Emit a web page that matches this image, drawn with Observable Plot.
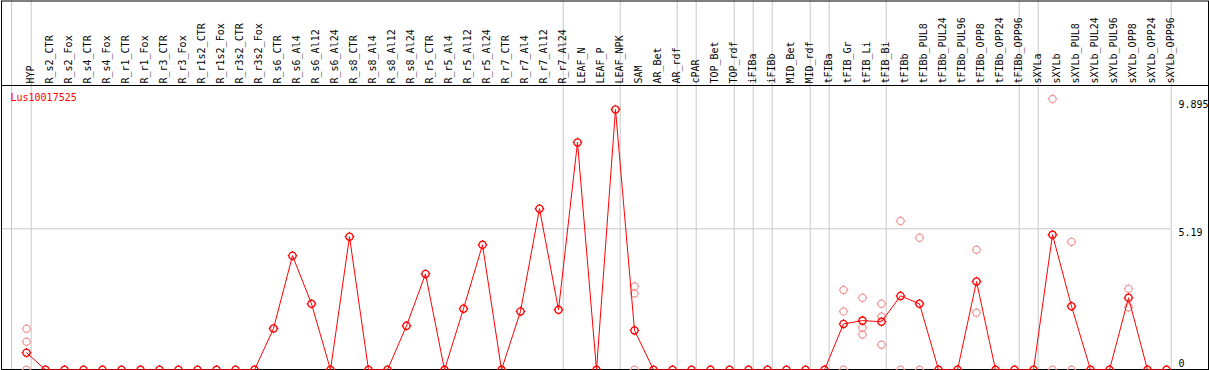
<!DOCTYPE html>
<html><head><meta charset="utf-8">
<script src="https://cdn.jsdelivr.net/npm/d3@7"></script>
<script src="https://cdn.jsdelivr.net/npm/@observablehq/plot@0.6"></script>
<style>body{margin:0;background:#fff} svg{display:block}</style>
</head><body><div id="chart"></div>
<script>
const geneId = "Lus10017525";
const categories = ["HYP","R_s2_CTR","R_s2_Fox","R_s4_CTR","R_s4_Fox","R_r1_CTR","R_r1_Fox","R_r3_CTR","R_r3_Fox","R_r1s2_CTR","R_r1s2_Fox","R_r3s2_CTR","R_r3s2_Fox","R_s6_CTR","R_s6_Al4","R_s6_Al12","R_s6_Al24","R_s8_CTR","R_s8_Al4","R_s8_Al12","R_s8_Al24","R_r5_CTR","R_r5_Al4","R_r5_Al12","R_r5_Al24","R_r7_CTR","R_r7_Al4","R_r7_Al12","R_r7_Al24","LEAF_N","LEAF_P","LEAF_NPK","SAM","AR_Bet","AR_rdf","cPAR","TOP_Bet","TOP_rdf","iFIBa","iFIBb","MID_Bet","MID_rdf","tFIBa","tFIB_Gr","tFIB_Li","tFIB_Bi","tFIBb","tFIBb_PUL8","tFIBb_PUL24","tFIBb_PUL96","tFIBb_OPP8","tFIBb_OPP24","tFIBb_OPP96","sXYLa","sXYLb","sXYLb_PUL8","sXYLb_PUL24","sXYLb_PUL96","sXYLb_OPP8","sXYLb_OPP24","sXYLb_OPP96"];
const means = [0.63,0,0,0,0,0,0,0,0,0,0,0,0,1.52,4.20,2.43,0,4.90,0,0,1.62,3.53,0,2.25,4.60,0,2.15,5.93,2.21,8.37,0,9.58,1.45,0,0,0,0,0,0,0,0,0,0,1.69,1.81,1.77,2.72,2.43,0,0,3.25,0,0,0,4.97,2.34,0,0,2.65,0,0];
const repCategories = ["HYP","HYP","HYP","SAM","SAM","SAM","tFIB_Gr","tFIB_Gr","tFIB_Gr","tFIB_Li","tFIB_Li","tFIB_Li","tFIB_Bi","tFIB_Bi","tFIB_Bi","tFIBb","tFIBb","tFIBb_PUL8","tFIBb_PUL8","tFIBb_OPP8","tFIBb_OPP8","sXYLb","sXYLb","sXYLb_PUL8","sXYLb_PUL8","sXYLb_OPP8","sXYLb_OPP8"];
const repValues = [1.51,1.03,0,3.07,2.81,0,2.94,2.15,0,2.65,1.55,1.30,2.43,1.96,0.92,5.48,0,4.86,0,4.42,2.10,9.97,0,4.71,0,2.98,2.30];
const groupEnds = ["HYP","R_r7_Al24","LEAF_NPK","AR_rdf","cPAR","TOP_rdf","iFIBa","iFIBb","MID_rdf","tFIBa","tFIB_Bi","tFIBb_OPP96","sXYLa","sXYLb_OPP96"];
const yTicksUpper = [5.19, 9.895];
const yTicksLower = [0];
const yGrid = [5.19];
const yTop = 10.464;

const meanData = categories.map((c, i) => ({cat: c, v: means[i]}));
const repData = repCategories.map((c, i) => ({cat: c, v: repValues[i]}));

const ringTick = {
  draw(ctx, size) {
    const r = Math.sqrt(size / Math.PI), t = 1.2;
    ctx.moveTo(r, 0); ctx.arc(0, 0, r, 0, 2 * Math.PI);
    ctx.moveTo(0, -r); ctx.lineTo(0, -r - t);
    ctx.moveTo(0, r); ctx.lineTo(0, r + t);
    ctx.moveTo(-r, 0); ctx.lineTo(-r - t, 0);
    ctx.moveTo(r, 0); ctx.lineTo(r + t, 0);
  }
};

const grid = "#c8c8c8";
const chart = Plot.plot({
  width: 1209, height: 370,
  marginTop: 0.5, marginBottom: 1, marginLeft: 1, marginRight: 1,
  style: {fontFamily: "'DejaVu Sans Mono', monospace", fontSize: "10px", background: "white", color: "black"},
  x: {type: "point", domain: categories, range: [26, 1166], padding: 0, axis: null},
  y: {domain: [0, yTop], range: [369.3, 85], axis: null},
  marks: [
    Plot.ruleX(["HYP"], {x: d => d, dx: -15, stroke: grid}),
    Plot.ruleX(groupEnds, {x: d => d, dx: 4.7, stroke: grid}),
    Plot.ruleY(yGrid, {y: d => d, stroke: grid, insetRight: 38}),
    Plot.ruleY([yTop], {y: d => d, stroke: "black"}),
    Plot.frame({stroke: "black"}),
    Plot.dot(repData, {x: "cat", y: "v", r: 3.6, symbol: ringTick, stroke: "#f09a9a", fill: "none", strokeWidth: 1.2}),
    Plot.line(meanData, {x: "cat", y: "v", stroke: "red", strokeWidth: 1}),
    Plot.dot(meanData, {x: "cat", y: "v", r: 3.6, symbol: ringTick, stroke: "red", fill: "none", strokeWidth: 1.3}),
    Plot.text(categories, {x: d => d, text: d => d, rotate: -90, textAnchor: "start", frameAnchor: "top", dy: 82.5, fill: "black"}),
    Plot.text([geneId], {text: d => d, frameAnchor: "top-left", dx: 9, dy: 92.5, textAnchor: "start", lineAnchor: "top", fill: "red", fontSize: 10}),
    Plot.text(yTicksUpper, {y: d => d, text: d => String(d), frameAnchor: "right", dx: -30, textAnchor: "start", lineAnchor: "top", fill: "black"}),
    Plot.text(yTicksLower, {y: d => d, text: d => String(d), frameAnchor: "right", dx: -30, dy: -3, textAnchor: "start", lineAnchor: "bottom", fill: "black"})
  ]
});
document.getElementById("chart").appendChild(chart);
</script>
</body></html>
